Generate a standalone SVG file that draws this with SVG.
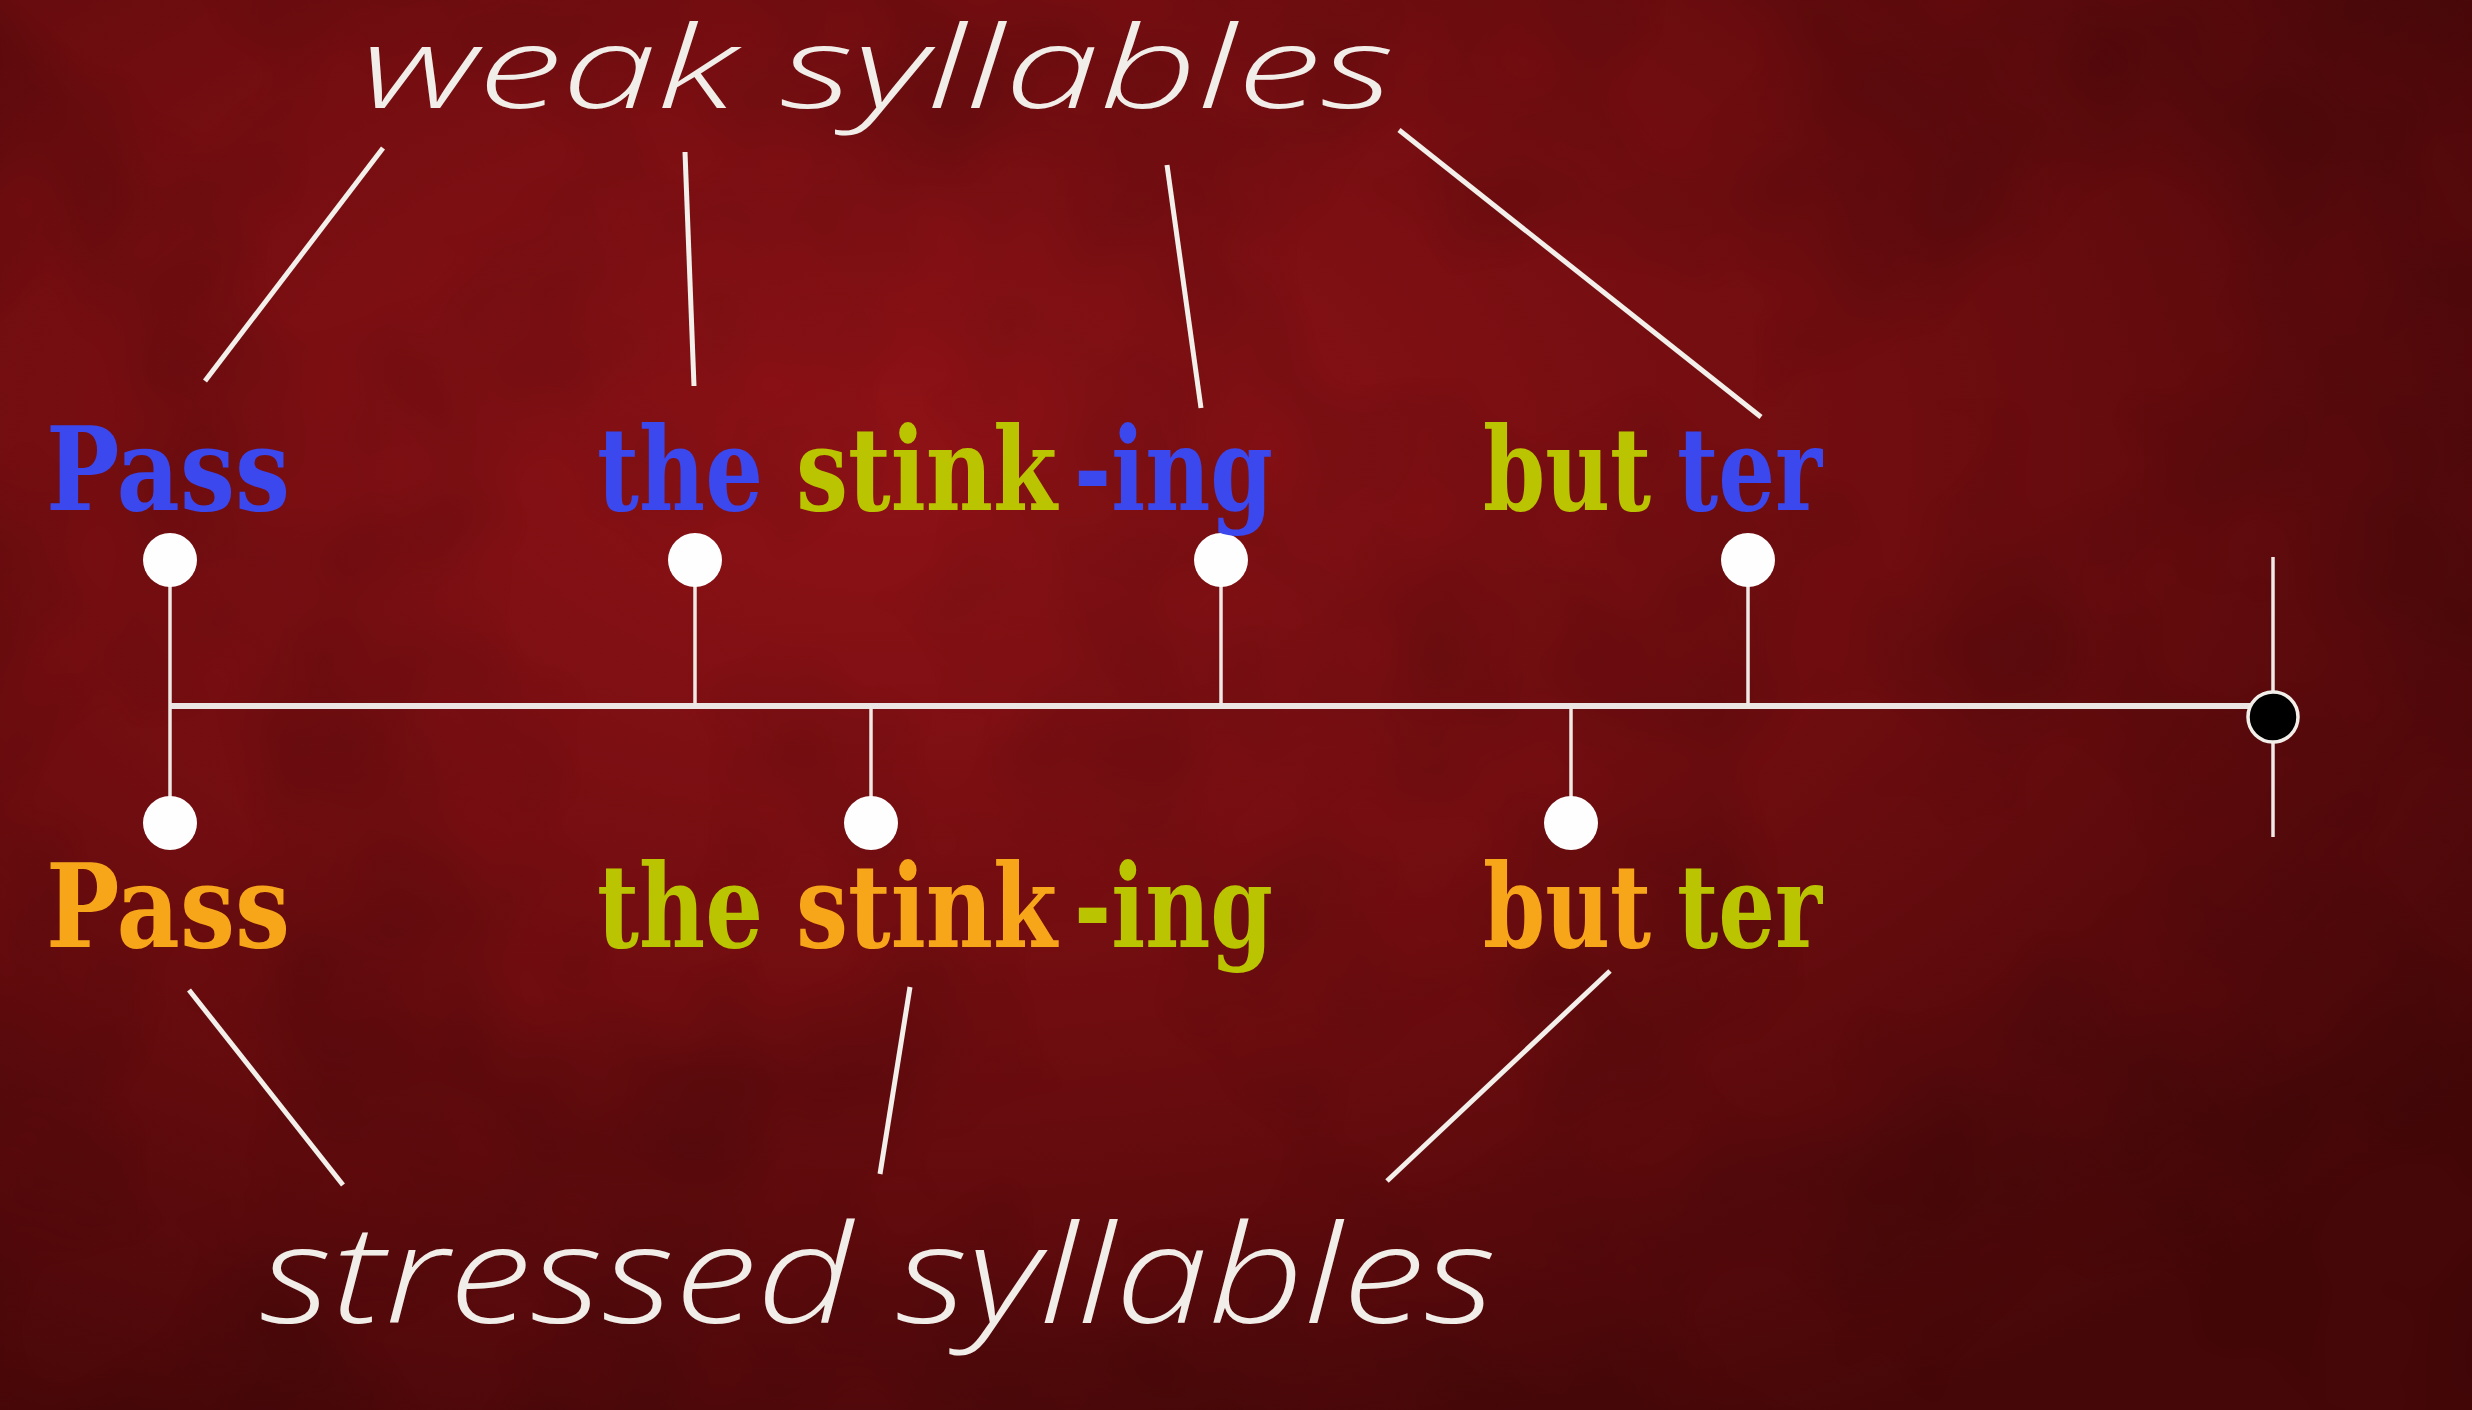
<svg xmlns="http://www.w3.org/2000/svg" width="2472" height="1410" viewBox="0 0 2472 1410">
<defs>
<radialGradient id="bg" cx="0.36" cy="0.32" r="0.8">
<stop offset="0" stop-color="#8e1216"/>
<stop offset="0.5" stop-color="#700d10"/>
<stop offset="1" stop-color="#450708"/>
</radialGradient>
<filter id="mottle" x="0" y="0" width="1" height="1">
<feTurbulence type="fractalNoise" baseFrequency="0.004" numOctaves="3" seed="7"/>
<feColorMatrix type="matrix" values="0 0 0 0 0  0 0 0 0 0  0 0 0 0 0  0 0 0 -0.9 0.55"/>
</filter>
<style>
.bold{font-family:"DejaVu Serif","Liberation Serif",serif;font-stretch:condensed;font-weight:bold;font-size:116px}
.hand{font-family:"Open Sans","DejaVu Sans",sans-serif;font-weight:300;font-style:italic;fill:#f1ede8}
.blue{fill:#3a48ee}
.green{fill:#bac400}
.orange{fill:#f7a61a}
.conn{stroke:#f3efea;stroke-width:5;stroke-linecap:butt;fill:none}
.stem{stroke:#efe9e6;stroke-width:3.5;fill:none}
.dot{fill:#fefefe}
</style>
</defs>
<rect width="2472" height="1410" fill="url(#bg)"/>
<rect width="2472" height="1410" fill="#000" filter="url(#mottle)" opacity="0.35"/>

<g id="connectors">
<line class="conn" x1="383" y1="148" x2="205" y2="381"/>
<line class="conn" x1="685" y1="152" x2="694" y2="386"/>
<line class="conn" x1="1167" y1="165" x2="1201" y2="408"/>
<line class="conn" x1="1399" y1="130" x2="1761" y2="417"/>
<line class="conn" x1="189" y1="990" x2="343" y2="1185"/>
<line class="conn" x1="910" y1="987" x2="880" y2="1174"/>
<line class="conn" x1="1610" y1="971" x2="1387" y2="1181"/>
</g>

<g id="timeline">
<line x1="170" y1="706" x2="2252" y2="706" stroke="#ebe5e3" stroke-width="6"/>
<line class="stem" x1="170" y1="560" x2="170" y2="823"/>
<line class="stem" x1="695" y1="560" x2="695" y2="706"/>
<line class="stem" x1="1221" y1="560" x2="1221" y2="706"/>
<line class="stem" x1="1748" y1="560" x2="1748" y2="706"/>
<line class="stem" x1="871" y1="706" x2="871" y2="823"/>
<line class="stem" x1="1571" y1="706" x2="1571" y2="823"/>
<line class="stem" x1="2273" y1="557" x2="2273" y2="837"/>
</g>

<g id="weak-dots">
<circle class="dot" cx="170" cy="560" r="27"/>
<circle class="dot" cx="695" cy="560" r="27"/>
<circle class="dot" cx="1221" cy="560" r="27"/>
<circle class="dot" cx="1748" cy="560" r="27"/>
</g>
<g id="stressed-dots">
<circle class="dot" cx="170" cy="823" r="27"/>
<circle class="dot" cx="871" cy="823" r="27"/>
<circle class="dot" cx="1571" cy="823" r="27"/>
</g>
<g id="end-marker">
<circle cx="2273" cy="717" r="25" fill="#000" stroke="#f2eeea" stroke-width="3.5"/>
</g>

<g id="weak-row">
<text class="bold blue" x="46" y="510" textLength="244" lengthAdjust="spacingAndGlyphs">Pass</text>
<text class="bold blue" x="597" y="510" textLength="166" lengthAdjust="spacingAndGlyphs">the</text>
<text class="bold green" x="796" y="510" textLength="261" lengthAdjust="spacingAndGlyphs">stink</text>
<text class="bold blue" x="1074" y="510" textLength="199" lengthAdjust="spacingAndGlyphs">-ing</text>
<text class="bold green" x="1483" y="510" textLength="168" lengthAdjust="spacingAndGlyphs">but</text>
<text class="bold blue" x="1677" y="510" textLength="145" lengthAdjust="spacingAndGlyphs">ter</text>
</g>

<g id="stressed-row">
<text class="bold orange" x="46" y="947" textLength="244" lengthAdjust="spacingAndGlyphs">Pass</text>
<text class="bold green" x="597" y="947" textLength="166" lengthAdjust="spacingAndGlyphs">the</text>
<text class="bold orange" x="796" y="947" textLength="261" lengthAdjust="spacingAndGlyphs">stink</text>
<text class="bold green" x="1074" y="947" textLength="199" lengthAdjust="spacingAndGlyphs">-ing</text>
<text class="bold orange" x="1483" y="947" textLength="168" lengthAdjust="spacingAndGlyphs">but</text>
<text class="bold green" x="1677" y="947" textLength="145" lengthAdjust="spacingAndGlyphs">ter</text>
</g>

<g id="weak-label">
<text class="hand" x="361" y="108" font-size="114" textLength="1033" lengthAdjust="spacingAndGlyphs">weak syllables</text>
</g>
<g id="stressed-label">
<text class="hand" x="260" y="1323" font-size="136" textLength="1236" lengthAdjust="spacingAndGlyphs">stressed syllables</text>
</g>
</svg>
